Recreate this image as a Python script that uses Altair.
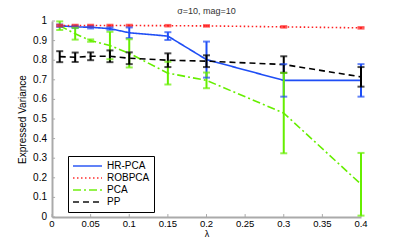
import altair as alt
import pandas as pd

lam = [0.01, 0.03, 0.05, 0.075, 0.1, 0.15, 0.2, 0.3, 0.4]
series_names = ["HR-PCA", "ROBPCA", "PCA", "PP"]

hr_mean = [0.976, 0.970, 0.968, 0.961, 0.940, 0.923, 0.803, 0.697, 0.697]
hr_err = [0.006, 0.006, 0.006, 0.006, 0.027, 0.020, 0.092, 0.083, 0.083]
rob_mean = [0.977, 0.977, 0.977, 0.977, 0.977, 0.976, 0.975, 0.970, 0.965]
rob_err = [0.004, 0.004, 0.004, 0.004, 0.004, 0.004, 0.004, 0.004, 0.004]
pca_mean = [0.976, 0.935, 0.900, 0.875, 0.835, 0.734, 0.697, 0.530, 0.167]
pca_err = [0.022, 0.030, 0.006, 0.070, 0.072, 0.058, 0.040, 0.205, 0.160]
pp_mean = [0.818, 0.815, 0.820, 0.820, 0.810, 0.800, 0.795, 0.778, 0.715]
pp_err = [0.028, 0.024, 0.020, 0.030, 0.030, 0.035, 0.030, 0.042, 0.050]

x_ticks = [0, 0.05, 0.1, 0.15, 0.2, 0.25, 0.3, 0.35, 0.4]
x_tick_labels = ["0", "0.05", "0.1", "0.15", "0.2", "0.25", "0.3", "0.35", "0.4"]
y_ticks = [0, 0.1, 0.2, 0.3, 0.4, 0.5, 0.6, 0.7, 0.8, 0.9, 1.0]
y_tick_labels = ["0", "0.1", "0.2", "0.3", "0.4", "0.5", "0.6", "0.7", "0.8", "0.9", "1"]

colors = ["#1f4ef5", "#ff2020", "#66ee00", "#000000"]
dashes = [[1, 0], [1.5, 2.5], [8, 3, 2, 3], [6, 4]]

rows = []
for name, m, e in zip(series_names, [hr_mean, rob_mean, pca_mean, pp_mean],
                      [hr_err, rob_err, pca_err, pp_err]):
    for x, y, er in zip(lam, m, e):
        rows.append({"series": name, "lam": x, "val": y,
                     "lo": max(y - er, 0.0), "hi": min(y + er, 1.0)})
df = pd.DataFrame(rows)

xs = alt.Scale(domain=[0, 0.4], nice=False, clamp=True)
ys = alt.Scale(domain=[0, 1], nice=False, clamp=True)

leg = alt.Legend(title=None, orient="none", legendX=16, legendY=135,
                 symbolType="stroke", symbolSize=841,
                 symbolStrokeWidth=2, clipHeight=12,
                 labelFont="Liberation Sans", labelFontSize=10,
                 labelColor="#000", strokeColor="#000",
                 fillColor="white", padding=4, rowPadding=0,
                 labelOffset=4)
col = alt.Color("series:N", scale=alt.Scale(domain=series_names, range=colors),
                legend=leg, title=None)
dash = alt.StrokeDash("series:N", scale=alt.Scale(domain=series_names, range=dashes),
                      legend=leg, title=None)

axis_x = alt.Axis(labels=False, ticks=False, domainColor="#aaaaaa", domainWidth=2,
                  title="λ", titleFont="Liberation Sans", titleFontSize=9,
                  titleColor="#000", titleFontWeight="normal", titleY=19,
                  titleBaseline="alphabetic")
axis_y = alt.Axis(labels=False, ticks=False, domainColor="#aaaaaa", domainWidth=2,
                  title="Expressed Variance", titleFont="Liberation Sans",
                  titleFontSize=10, titleColor="#000", titleFontWeight="normal",
                  titlePadding=25)


def X(field):
    return alt.X(field, scale=xs, axis=axis_x, title="λ")


def Y(field):
    return alt.Y(field, scale=ys, axis=axis_y, title="Expressed Variance")


base = alt.Chart(df)

lines = base.mark_line(strokeWidth=1.6, clip=True).encode(
    x=X("lam:Q"), y=Y("val:Q"),
    color=col, strokeDash=dash, order="lam:Q")

bars = base.mark_rule(strokeWidth=2).encode(
    x=X("lam:Q"), y=Y("lo:Q"), y2="hi:Q", color=col)
caps_lo = base.mark_tick(orient="horizontal", size=7, thickness=2).encode(
    x=X("lam:Q"), y=Y("lo:Q"), color=col)
caps_hi = base.mark_tick(orient="horizontal", size=7, thickness=2).encode(
    x=X("lam:Q"), y=Y("hi:Q"), color=col)

tdf_x = pd.DataFrame({"t": x_ticks, "lab": x_tick_labels})
tdf_y = pd.DataFrame({"t": y_ticks, "lab": y_tick_labels})
xt = alt.Chart(tdf_x).mark_rule(color="#aaaaaa", strokeWidth=1).encode(
    x=X("t:Q"), y=alt.datum(0), y2=alt.datum(0.015))
yt = alt.Chart(tdf_y).mark_rule(color="#aaaaaa", strokeWidth=1).encode(
    y=Y("t:Q"), x=alt.datum(0), x2=alt.datum(0.004))
xl = alt.Chart(tdf_x).mark_text(font="Liberation Sans", fontSize=9.5, color="#000",
                                baseline="top", align="center", dy=2).encode(
    x=X("t:Q"), y=alt.datum(0), text="lab:N")
yl = alt.Chart(tdf_y).mark_text(font="Liberation Sans", fontSize=10, color="#000",
                                baseline="middle", align="right", dx=-5).encode(
    y=Y("t:Q"), x=alt.datum(0), text="lab:N")

chart = alt.layer(lines, xt, yt, bars, caps_lo, caps_hi, xl, yl).properties(
    width=309, height=196,
    title=alt.TitleParams("σ=10, mag=10", font="Liberation Sans", fontSize=9,
                          fontWeight="normal", color="#333", offset=0),
    autosize=alt.AutoSizeParams(type="none"),
    padding={"left": 44, "top": 13, "right": 30, "bottom": 20},
).configure_view(stroke=None).configure_axis(grid=False)

chart.save("out.html", embed_options={"renderer": "svg", "actions": False})
